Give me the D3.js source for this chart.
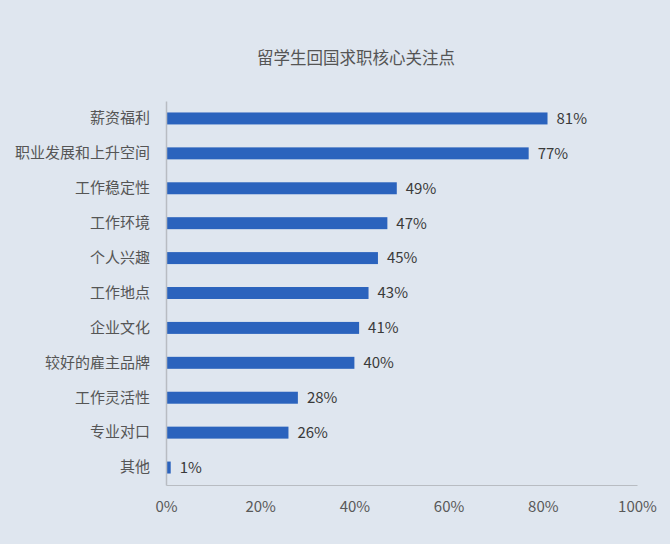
<!DOCTYPE html>
<html>
<head>
<meta charset="utf-8">
<script src="https://cdn.jsdelivr.net/npm/d3@7"></script>
<style>
    html, body { margin: 0; padding: 0; background: #dfe6ef; }
    text { font-family: "Noto Sans CJK SC", "Noto Sans", sans-serif; }
</style>
</head>
<body>
<div id="chart"></div>
<script>
var categories = ["薪资福利", "职业发展和上升空间", "工作稳定性", "工作环境", "个人兴趣",
                  "工作地点", "企业文化", "较好的雇主品牌", "工作灵活性", "专业对口", "其他"];
var values     = [81, 77, 49, 47, 45, 43, 41, 40, 28, 26, 1];
var xTicks     = [0, 20, 40, 60, 80, 100];
var title      = "留学生回国求职核心关注点";

var width = 670, height = 544;
var margins = {top: 101, bottom: 59, left: 166, right: 33};

/* SVG */
var svg = d3.select("#chart")
    .append("svg")
        .attr("width", width)
        .attr("height", height);

svg.append("rect")
    .attr("width", width)
    .attr("height", height)
    .attr("fill", "#dfe6ef");

/* Scales */
var x = d3.scaleLinear()
    .domain([0, 100])
    .range([margins.left, width - margins.right]);
var pad = 0.657;
var y = d3.scaleBand()
    .domain(categories)
    .range([margins.top, height - margins.bottom])
    .paddingInner(pad)
    .paddingOuter(pad / 2);

/* Title */
svg.append("text")
    .attr("x", 356)
    .attr("y", 64)
    .attr("text-anchor", "middle")
    .attr("font-size", 16.5)
    .attr("fill", "#555")
    .text(title);

/* Bars */
svg.selectAll(".bar")
    .data(values)
    .enter()
    .append("rect")
        .attr("class", "bar")
        .attr("x", x(0))
        .attr("y", function(d, i) { return y(categories[i]); })
        .attr("width", function(d) { return x(d) - x(0); })
        .attr("height", y.bandwidth())
        .attr("fill", "#2b63bd");

/* Value labels */
svg.selectAll(".val")
    .data(values)
    .enter()
    .append("text")
        .attr("class", "val")
        .attr("x", function(d) { return x(d) + 9; })
        .attr("y", function(d, i) { return y(categories[i]) + y.bandwidth() / 2; })
        .attr("dy", "0.36em")
        .attr("font-size", 15)
        .attr("fill", "#3a3a3a")
        .text(function(d) { return d + "%"; });

/* Axes */
var yAxis = d3.axisLeft(y).tickSize(0).tickPadding(16);
var gy = svg.append("g")
    .attr("transform", "translate(" + x(0) + ",0)")
    .call(yAxis);
gy.select(".domain").attr("stroke", "#b8bcc2").attr("stroke-width", 1.5);
gy.selectAll("text")
    .attr("font-size", 15)
    .attr("fill", "#555");

var xAxis = d3.axisBottom(x)
    .tickValues(xTicks)
    .tickSize(0)
    .tickPadding(16)
    .tickFormat(function(d) { return d + "%"; });
var gx = svg.append("g")
    .attr("transform", "translate(0," + (height - margins.bottom) + ")")
    .call(xAxis);
gx.select(".domain").attr("stroke", "#b8bcc2").attr("stroke-width", 1.2);
gx.selectAll("text")
    .attr("font-size", 15)
    .attr("fill", "#595959");
gy.raise();
</script>
</body>
</html>
